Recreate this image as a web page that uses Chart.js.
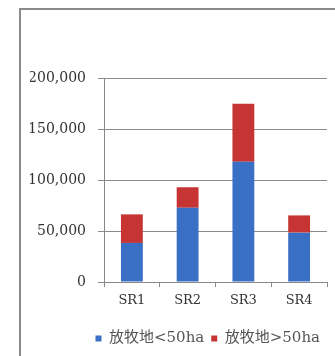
<!DOCTYPE html>
<html lang="ja">

<head>
    <meta charset="UTF-8">
    <title>放牧地</title>
    <script src="https://cdn.jsdelivr.net/npm/chart.js"></script>
    <style>
        body {
            margin: 0;
            background: #fff;
        }

        .frame {
            position: absolute;
            left: 19px;
            top: 8px;
            width: 330px;
            height: 360px;
            border-left: 2px solid #8a8a8a;
            border-top: 2px solid #8a8a8a;
        }

        .chart-container {
            position: absolute;
            left: 0;
            top: 0;
            width: 335px;
            height: 356px;
        }
    </style>
</head>

<body>
    <div class="frame"></div>
    <div class="chart-container">
        <canvas id="chart"></canvas>
    </div>

    <script>
        // values
        const regions = ['SR1', 'SR2', 'SR3', 'SR4'];
        const smallFarms = [38300, 72800, 118000, 48400];   // 放牧地<50ha
        const largeFarms = [28000, 20100, 56700, 16900];    // 放牧地>50ha
        const yTicks = [0, 50000, 100000, 150000, 200000];

        const serif = '"DejaVu Serif", "Liberation Serif", serif';

        var ctx = document.getElementById('chart').getContext('2d');
        var chart = new Chart(ctx, {
            type: 'bar',
            data: {
                labels: regions,
                datasets: [{
                    label: '放牧地<50ha',
                    data: smallFarms,
                    backgroundColor: '#3a6fc6',
                    barPercentage: 0.8,
                    categoryPercentage: 0.49
                }, {
                    label: '放牧地>50ha',
                    data: largeFarms,
                    backgroundColor: '#c63533',
                    barPercentage: 0.8,
                    categoryPercentage: 0.49
                }]
            },
            options: {
                responsive: true,
                maintainAspectRatio: false,
                animation: false,
                layout: {
                    padding: { left: 30, right: 8, top: 78, bottom: 0 }
                },
                plugins: {
                    tooltip: { enabled: false },
                    legend: {
                        position: 'bottom',
                        align: 'end',
                        labels: {
                            boxWidth: 6,
                            boxHeight: 6,
                            padding: 7,
                            color: '#555',
                            font: { family: serif + ', "Noto Sans CJK JP"', size: 15 }
                        }
                    }
                },
                scales: {
                    x: {
                        stacked: true,
                        grid: {
                            drawOnChartArea: false,
                            tickLength: 5,
                            color: '#888'
                        },
                        border: { color: '#888', width: 1 },
                        ticks: {
                            color: '#333',
                            padding: 6,
                            font: { family: serif, size: 13 }
                        },
                        afterFit: function (scale) {
                            scale.height = 42;
                        }
                    },
                    y: {
                        stacked: true,
                        min: 0,
                        max: 200000,
                        afterBuildTicks: function (scale) {
                            scale.ticks = yTicks.map(v => ({ value: v }));
                        },
                        afterFit: function (scale) {
                            scale.width = 74;
                        },
                        grid: {
                            color: '#8c8c8c',
                            tickLength: 6
                        },
                        border: { color: '#888', width: 1 },
                        ticks: {
                            color: '#333',
                            padding: 12,
                            font: { family: serif, size: 14 },
                            callback: function (v) {
                                return v.toLocaleString('en-US');
                            }
                        }
                    }
                }
            }
        });
    </script>
</body>

</html>
